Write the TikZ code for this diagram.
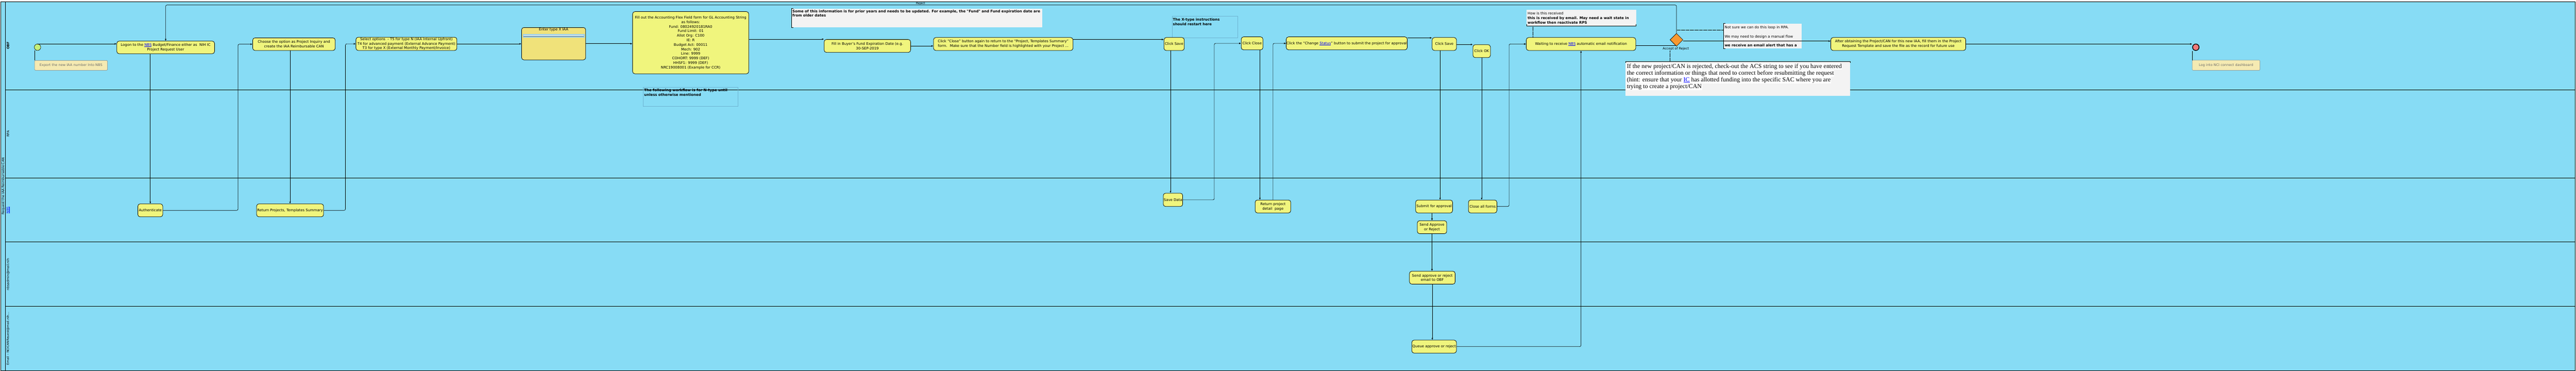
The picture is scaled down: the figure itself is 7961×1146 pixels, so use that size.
\documentclass[tikz,border=0pt]{standalone}
\usepackage{fontspec}
\setmainfont{DejaVu Sans}
\newfontfamily\cmtserif{Liberation Serif}
\usepackage{tikz}
\usetikzlibrary{arrows.meta,shapes.geometric}

\definecolor{lanebg}{RGB}{135,220,245}
\definecolor{taskfill}{RGB}{240,245,125}
\definecolor{taskgold}{RGB}{240,226,122}
\definecolor{startfill}{RGB}{196,240,122}
\definecolor{endfill}{RGB}{240,122,122}
\definecolor{gwfill}{RGB}{248,152,48}
\definecolor{notefill}{RGB}{245,234,178}
\definecolor{cmtfill}{RGB}{243,243,243}
\definecolor{xline}{RGB}{110,180,210}
\definecolor{imgblue}{RGB}{150,205,235}

\newcommand{\lnk}[1]{\textcolor{blue}{\underline{#1}}}
\newcommand{\whitebg}[1]{{\setlength{\fboxsep}{1pt}\colorbox{white}{#1}}}

\begin{document}
\begin{tikzpicture}[x=1pt,y=-1pt]

\tikzset{pool/.style = {draw, line width=1.6pt, fill=lanebg}}
\tikzset{lane/.style = {line width=1.3pt}}
\tikzset{lanelbl/.style = {rotate=90, inner sep=0pt, font=\fontsize{10}{12}\selectfont}}
\tikzset{task/.style = {shape=rectangle, rounded corners=7pt, draw, line width=1.2pt, fill=taskfill, align=center, inner sep=1pt, font=\fontsize{11}{14}\selectfont}}
\tikzset{tasktxt/.style = {inner sep=1pt, font=\fontsize{11}{14}\selectfont}}
\tikzset{startev/.style = {shape=circle, draw, line width=1pt, fill=startfill, minimum size=20pt, inner sep=0pt}}
\tikzset{endev/.style = {shape=circle, draw, line width=2.2pt, fill=endfill, minimum size=20pt, inner sep=0pt}}
\tikzset{gateway/.style = {shape=diamond, draw, line width=1pt, fill=gwfill, minimum width=40pt, minimum height=40pt, inner sep=0pt}}
\tikzset{gwlbl/.style = {inner sep=0pt, font=\fontsize{10}{12}\selectfont}}
\tikzset{note/.style = {shape=rectangle, rounded corners=2pt, draw=gray, line width=0.8pt, fill=notefill, text=gray!85!black, font=\fontsize{10.5}{13}\selectfont}}
\tikzset{cmt/.style = {shape=rectangle, fill=cmtfill, inner sep=0pt}}
\tikzset{xnote/.style = {shape=rectangle, draw=xline, line width=0.6pt, inner sep=0pt}}
\tikzset{cmttxt/.style = {align=left, inner sep=3pt, font=\fontsize{11}{14}\selectfont}}
\tikzset{bigtxt/.style = {align=left, inner sep=3pt, font=\cmtserif\fontsize{19}{21}\selectfont}}
\tikzset{brk/.style = {line width=1.4pt}}
\tikzset{arc/.style = {->,>={Latex[length=6pt,width=5pt]}, line width=1pt, rounded corners=4pt}}
\tikzset{flow/.style = {line width=1pt}}
\tikzset{assocline/.style = {line width=0.8pt}}
\tikzset{assoc/.style = {densely dotted, line width=0.8pt}}

\useasboundingbox (0,0) rectangle (7961,1146);

% pool and lanes
\draw[pool] (2,6) rectangle (7958,1145);
\draw[lane] (17,6) -- (17,1145);
\foreach \y in {277,550,748,947}
  \draw[lane] (17,\y) -- (7958,\y);

\node[lanelbl] (pooltitle) at (10,575) {Request the IAA Reimbursable CAN};
\node[lanelbl, font=\bfseries\fontsize{10}{12}\selectfont] (obf) at (25,141) {OBF};
\node[lanelbl] (rpa) at (25,413) {RPA};
\node[lanelbl] (nbs) at (25,649) {\lnk{NBS}};
\node[lanelbl] (admin) at (25,848) {nbsadmin@mail.nih};
\node[lanelbl, font=\fontsize{9.5}{12}\selectfont] (email) at (25,1046) {Email – NCICANReuest@mail.nih...};

% notes
\node[cmt, minimum width=775, minimum height=58] (somec) at (2833.5,56) {};
\node[cmttxt, anchor=north west] (somet) at (somec.north west) {\bfseries Some of this information is for prior years and needs to be updated. For example, the \textquotedbl Fund\textquotedbl{} and Fund expiration date are\\\bfseries from older dates};
\node[xnote, minimum width=292, minimum height=60] (ntype) at (2134,299) {};
\node[cmttxt, anchor=north west] (ntypet) at ([yshift=-3]ntype.north west) {\bfseries The following workflow is for N-type until\\\bfseries unless otherwise mentioned};
\node[xnote, minimum width=203, minimum height=67] (xtype) at (3723.5,82.5) {};
\node[cmttxt, anchor=north west] (xtypet) at ([yshift=-4]xtype.north west) {\bfseries The X-type instructions\\\bfseries should restart here};
\node[cmt, minimum width=338, minimum height=49] (howc) at (4887,55.5) {};
\node[cmttxt, anchor=north west] (howt) at ([yshift=-3]howc.north west) {How is this received\\\textbf{this is received by email. May need a wait state in}\\\textbf{workflow then reactivate RPS}};
\node[cmt, minimum width=241, minimum height=77] (notsure) at (5447.5,111.5) {};
\node[cmttxt, anchor=north west] (notsuret) at ([yshift=-4]notsure.north west) {Not sure we can do this loop in RPA.\\[14pt]We may need to design a manual flow\\[14pt]\textbf{we receive an email alert that has a}};
\node[cmt, minimum width=694, minimum height=106] (bigc) at (5371,243) {};
\node[bigtxt, anchor=north west] (bigt) at ([yshift=-3]bigc.north west) {\whitebg{If the new project/CAN is rejected, check-out the ACS string to see if you have entered}\\\whitebg{the correct information or things that need to correct before resubmitting the request}\\\whitebg{(hint: ensure that your \lnk{IC} has allotted funding into the specific SAC where you are}\\\whitebg{trying to create a project/CAN}};

\draw[brk] ([xshift=6]somec.north west) -- (somec.north west) -- (somec.south west) -- ++(6,0);
\draw[brk] ([xshift=6]notsure.north west) -- (notsure.north west) -- (notsure.south west) -- ++(6,0);
\draw[brk] ([yshift=5]howc.south west) -- (howc.south west) -- (howc.south east) -- ++(0,-5);
\draw[brk] ([yshift=-5]bigc.north west) -- (bigc.north west) -- (bigc.north east) -- ++(0,5);

% events
\node[startev] (start) at (116,146) {};
\node[endev] (endc) at (6786,146) {};
\node[note, minimum width=225, minimum height=30] (exportn) at (219.5,202) {Export the new IAA number Into NBS};
\node[note, minimum width=209, minimum height=31] (logn) at (6879.5,201.5) {Log into NCI connect dashboard};

% tasks (OBF)
\node[task, minimum width=302, minimum height=39] (logon) at (512,146.5) {Logon to the \lnk{NBS} Budget/Finance either as~ NIH IC\\Project Request User};
\node[task, minimum width=255, minimum height=39] (choose) at (908.5,136.5) {Choose the option as Project Inquiry and\\create the IAA Reimbursable CAN};
\node[task, minimum width=312, minimum height=41] (select) at (1256,135.5) {Select options~ - T5 for type N (IAA Internal Upfront)\\T4 for advanced payment (External Advance Payment)\\T3 for type X (External Monthly Payment/Invoice)};
\node[task, fill=taskgold, minimum width=198, minimum height=100] (entx) at (1711,135) {};
\node[tasktxt, anchor=north] (entxt) at ([yshift=-1]entx.north) {Enter type X IAA};
\fill[imgblue] ([xshift=4,yshift=-21]entx.north west) rectangle ([xshift=-4,yshift=-32]entx.north east);
\draw[white, line width=0.6pt] ([xshift=6,yshift=-24]entx.north west) -- ([xshift=-6,yshift=-24]entx.north east);
\draw[gray, line width=0.4pt] ([xshift=6,yshift=-28]entx.north west) -- ([xshift=-6,yshift=-28]entx.north east);
\node[task, minimum width=359, minimum height=192] (fillout) at (2134.5,132) {Fill out the Accounting Flex Field form for GL Accounting String\\as follows:\\Fund: 08024920181RA0\\Fund Limit: 01\\Allot Org: C100\\IE: R\\Budget Act: 00011\\Mech: 902\\Line: 9999\\COHORT: 9999 (DEF)\\HHSF1: 9999 (DEF)\\NRC19008001 (Example for CCR)};
\node[task, minimum width=267, minimum height=40] (fillin) at (2680.5,142) {Fill in Buyer’s Fund Expiration Date (e.g.\\30-SEP-2019};
\node[task, minimum width=431, minimum height=40] (clsag) at (3100.5,136) {Click “Close” button again to return to the “Project, Templates Summary”\\form.~ Make sure that the Number field is highlighted with your Project ...};
\node[task, minimum width=63, minimum height=40] (save1) at (3628.5,136) {Click Save};
\node[task, minimum width=67, minimum height=40] (cclose) at (3869.5,134) {Click Close};
\node[task, minimum width=370, minimum height=40] (chst) at (4162,134) {Click the “Change \lnk{Status}” button to submit the project for approval};
\node[task, minimum width=75, minimum height=40] (save2) at (4463.5,136) {Click Save};
\node[task, minimum width=54, minimum height=40] (ok) at (4579,158) {Click OK};
\node[task, minimum width=338, minimum height=40] (wait) at (4886,136) {Waiting to receive \lnk{NBS} automatic email notification};
\node[gateway] (gw) at (5181,123) {};
\node[gwlbl] (gwl) at (5179,151) {Accept of Reject};
\node[task, minimum width=417, minimum height=40] (after) at (5866.5,136) {After obtaining the Project/CAN for this new IAA, fill them in the Project\\Request Template and save the file as the record for future use};
\node[gwlbl, font=\fontsize{9}{11}\selectfont] (rej) at (2845,11) {Reject};

% tasks (NBS, nbsadmin, email)
\node[task, minimum width=77, minimum height=40] (auth) at (464.5,650) {Authenticate};
\node[task, minimum width=207, minimum height=40] (retp) at (896.5,650) {Return Projects, Templates Summary};
\node[task, minimum width=60, minimum height=41] (savedata) at (3625,617.5) {Save Data};
\node[task, minimum width=110, minimum height=40] (retpd) at (3934,638) {Return project\\detail~ page};
\node[task, minimum width=114, minimum height=40] (submit) at (4432,638) {Submit for approval};
\node[task, minimum width=88, minimum height=40] (closeall) at (4582,638) {Close all forms};
\node[task, minimum width=91, minimum height=40] (sendar) at (4425.5,702) {Send Approve\\or Reject};
\node[task, minimum width=141, minimum height=40] (sendem) at (4426.5,858) {Send approve or reject\\email to OBF};
\node[task, minimum width=138, minimum height=40] (queue) at (4432,1071) {Queue approve or reject};

% flows
\draw[arc] (start.north) -- (start.north -| logon.west);
\draw[arc] (logon.south -| auth.north) -- (auth.north);
\draw[arc] (auth.east) -- ++(232,0) |- (choose.west);
\draw[arc] (choose.south -| retp.north) -- (retp.north);
\draw[arc] (retp.east) -- ++(67,0) |- (select.west);
\draw[arc] (select.east) -- (select.east -| entx.west);
\draw[arc] (entx.east) -- (entx.east -| fillout.west);
\draw[arc] ([yshift=11]fillout.east) -- ([yshift=11]fillout.east -| fillin.west);
\draw[arc] (fillin.east) -- (fillin.east -| clsag.west);
\draw[arc] ([yshift=14]clsag.east) -- ([yshift=14]clsag.east -| save1.west);
\draw[arc] ([xshift=-11]save1.south) -- ([xshift=-11]save1.south |- savedata.north);
\draw[arc] (savedata.east) -- ++(97,0) |- (cclose.west);
\draw[arc] ([xshift=-10]cclose.south east) -- ([xshift=-10]cclose.south east |- retpd.north);
\draw[arc] (retpd.north) |- (chst.west);
\draw[arc] ([yshift=17]chst.east) -- ([yshift=17]chst.east -| save2.west);
\draw[arc] (save2.east |- ok.north west) -- (ok.north west);
\draw[arc] ([xshift=-13]save2.south) -- ([xshift=-13]save2.south |- submit.north);
\draw[arc] (ok.south) -- (ok.south |- closeall.north);
\draw[arc] (closeall.east) -- ++(37,0) |- (wait.west);
\draw[arc] (submit.south -| sendar.north) -- (sendar.north);
\draw[arc] (sendar.south) -- (sendar.south |- sendem.north);
\draw[arc] (sendem.south) -- (sendem.south |- queue.north);
\draw[arc] (queue.east) -| (wait.south);
\draw[flow] ([yshift=-5]wait.east) -- ([yshift=-5,xshift=-3]wait.east -| gw.south);
\draw[arc] ([yshift=-4]gw.east) -- ([yshift=-4]gw.east -| after.west);
\draw[arc] (gw.north) -- ++(0,-87) -| (logon.north);
\draw[arc] (after.east) -- (after.east -| endc.west);

% associations
\draw[assocline] (exportn.north west) -- (exportn.north west |- start.south);
\draw[assocline] (logn.north west) -- (logn.north west |- endc.south);
\draw[assoc] ([xshift=20]howc.south west) -- ([xshift=20]howc.south west |- wait.north);
\draw[assoc] ([yshift=18]notsure.west) -- ([yshift=18]notsure.west -| gw.north);
\draw[assoc] (gwl.south -| gw.west) -- (bigc.north -| gw.west);

\end{tikzpicture}
\end{document}
